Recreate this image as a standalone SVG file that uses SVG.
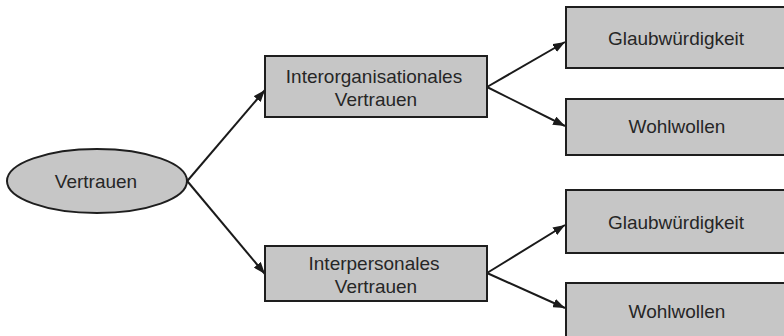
<svg xmlns="http://www.w3.org/2000/svg" width="784" height="336" viewBox="0 0 784 336">
<defs>
<marker id="ah" viewBox="0 0 12 9" refX="12" refY="4.5" markerWidth="12" markerHeight="9" markerUnits="userSpaceOnUse" orient="auto">
<path d="M0,0 L12,4.5 L0,9 Z" fill="#1a1a1a"/>
</marker>
</defs>
<style>
.n{fill:#c6c6c6;stroke:#1e1e1e;stroke-width:2}
.t{font-family:"Liberation Sans",Arial,sans-serif;font-size:19px;fill:#262626;text-anchor:middle}
.c{stroke:#1a1a1a;stroke-width:2;fill:none;marker-end:url(#ah)}
</style>
<rect width="784" height="336" fill="#ffffff"/>
<g id="connectors">
<line class="c" x1="183" y1="186" x2="265" y2="90"/>
<line class="c" x1="183" y1="176" x2="265" y2="274"/>
<line class="c" x1="487" y1="87" x2="565" y2="42"/>
<line class="c" x1="487" y1="87" x2="565" y2="126"/>
<line class="c" x1="487" y1="273" x2="565" y2="225"/>
<line class="c" x1="487" y1="273" x2="565" y2="308"/>
</g>
<g id="vertrauen">
<ellipse class="n" cx="97" cy="181" rx="90" ry="32"/>
<text class="t" x="96" y="188">Vertrauen</text>
</g>
<g id="interorganisational">
<rect class="n" x="265" y="56" width="222" height="61"/>
<text class="t" x="374" y="83">Interorganisationales</text>
<text class="t" x="376" y="106">Vertrauen</text>
</g>
<g id="interpersonal">
<rect class="n" x="265" y="246" width="222" height="55"/>
<text class="t" x="374" y="270">Interpersonales</text>
<text class="t" x="376" y="293">Vertrauen</text>
</g>
<g id="glaub1">
<rect class="n" x="566" y="7" width="240" height="61"/>
<text class="t" x="676" y="45">Glaubwürdigkeit</text>
</g>
<g id="wohl1">
<rect class="n" x="566" y="99" width="240" height="56"/>
<text class="t" x="677" y="133">Wohlwollen</text>
</g>
<g id="glaub2">
<rect class="n" x="566" y="190" width="240" height="63"/>
<text class="t" x="676" y="229">Glaubwürdigkeit</text>
</g>
<g id="wohl2">
<rect class="n" x="566" y="283" width="240" height="70"/>
<text class="t" x="677" y="318">Wohlwollen</text>
</g>
</svg>
